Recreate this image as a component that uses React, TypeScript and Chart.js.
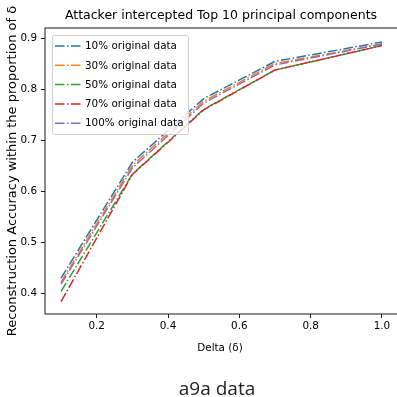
import React, { useEffect, useRef } from "react";
import { Chart, registerables } from "chart.js";

Chart.register(...registerables);

const deltas = [0.1, 0.3, 0.5, 0.7, 1.0];
const seriesNames = [
  "10% original data",
  "30% original data",
  "50% original data",
  "70% original data",
  "100% original data",
];
const acc10 = [0.43, 0.657, 0.782, 0.855, 0.893];
const acc30 = [0.422, 0.651, 0.777, 0.851, 0.889];
const acc50 = [0.404, 0.634, 0.761, 0.838, 0.886];
const acc70 = [0.384, 0.633, 0.760, 0.838, 0.886];
const acc100 = [0.418, 0.646, 0.773, 0.848, 0.889];
const colors = ["#1f77b4", "#ff7f0e", "#2ca02c", "#d62728", "#9467bd"];
const xTicks = [0.2, 0.4, 0.6, 0.8, 1.0];
const yTicks = [0.4, 0.5, 0.6, 0.7, 0.8, 0.9];
const titleText = "Attacker intercepted Top 10 principal components";
const xLabel = "Delta (δ)";
const yLabel = "Reconstruction Accuracy within the proportion of δ";
const caption = "a9a data";

const FONT = "'DejaVu Sans', sans-serif";
const DASH = [9.6, 2.4, 1.5, 2.4];

export default function App() {
  const ref = useRef<HTMLCanvasElement | null>(null);
  useEffect(() => {
    if (!ref.current) return;
    const allSeries = [acc10, acc30, acc50, acc70, acc100];
    const overlay = {
      id: "overlay",
      afterDraw(chart: any) {
        const ctx = chart.ctx;
        const a = chart.chartArea;
        ctx.save();
        // spines
        ctx.strokeStyle = "#000";
        ctx.lineWidth = 0.9;
        ctx.strokeRect(a.left, a.top, a.right - a.left, a.bottom - a.top);
        // title
        ctx.fillStyle = "#000";
        ctx.font = `12.5px ${FONT}`;
        ctx.textAlign = "center";
        ctx.textBaseline = "middle";
        const cx = (a.left + 397) / 2;
        ctx.fillText(titleText, cx, 16);
        // x label
        ctx.font = `10.4px ${FONT}`;
        ctx.fillText(xLabel, cx - 1, 348);
        // y label
        ctx.save();
        ctx.translate(13, (a.top + a.bottom) / 2);
        ctx.rotate(-Math.PI / 2);
        ctx.font = `13px ${FONT}`;
        ctx.fillText(yLabel, 0, 0);
        ctx.restore();
        // legend
        const lx = 52, ly = 35, lw = 136, lh = 99;
        ctx.fillStyle = "rgba(255,255,255,0.8)";
        ctx.strokeStyle = "#d0d0d0";
        ctx.lineWidth = 1;
        ctx.beginPath();
        if ((ctx as any).roundRect) (ctx as any).roundRect(lx + 0.5, ly + 0.5, lw, lh, 2);
        else ctx.rect(lx + 0.5, ly + 0.5, lw, lh);
        ctx.fill();
        ctx.stroke();
        ctx.textAlign = "left";
        ctx.textBaseline = "middle";
        ctx.font = `10.4px ${FONT}`;
        for (let i = 0; i < seriesNames.length; i++) {
          const y = 46 + i * 19.3;
          ctx.strokeStyle = colors[i];
          ctx.lineWidth = 1.5;
          ctx.setLineDash(DASH);
          ctx.beginPath();
          ctx.moveTo(55, y);
          ctx.lineTo(83, y);
          ctx.stroke();
          ctx.setLineDash([]);
          ctx.fillStyle = "#000";
          ctx.fillText(seriesNames[i], 85, y + 0.5);
        }
        // caption
        ctx.fillStyle = "#222";
        ctx.font = "19px 'Open Sans', Lato, sans-serif";
        ctx.textAlign = "center";
        ctx.textBaseline = "alphabetic";
        ctx.fillText(caption, 217, 395);
        ctx.restore();
      },
    };
    const chart = new Chart(ref.current, {
      type: "line",
      data: {
        datasets: allSeries.map((s, i) => ({
          label: seriesNames[i],
          data: s.map((v, j) => ({ x: deltas[j], y: v })),
          borderColor: colors[i],
          backgroundColor: colors[i],
          borderWidth: 1.5,
          borderDash: DASH,
          pointRadius: 0,
          fill: false,
          tension: 0,
          order: 4 - i,
        })),
      },
      options: {
        responsive: false,
        animation: false,
        devicePixelRatio: 1,
        layout: { padding: { left: 0, right: 12, top: 28, bottom: 0 } },
        plugins: {
          legend: { display: false },
          tooltip: { enabled: false },
          title: { display: false },
        },
        scales: {
          x: {
            type: "linear",
            min: 0.055,
            max: 1.045,
            afterFit: (s: any) => {
              s.height = 83;
            },
            afterBuildTicks: (s: any) => {
              s.ticks = xTicks.map((v) => ({ value: v }));
            },
            ticks: {
              autoSkip: false,
              maxRotation: 0,
              padding: 2,
              color: "#000",
              font: { family: FONT, size: 10.4 },
              callback: (v: any) => Number(v).toFixed(1),
            },
            grid: {
              drawOnChartArea: false,
              drawTicks: true,
              tickLength: 4,
              tickColor: "#000",
              tickWidth: 0.9,
            },
            border: { display: false },
          },
          y: {
            type: "linear",
            min: 0.3595,
            max: 0.9205,
            afterFit: (s: any) => {
              s.width = 45;
            },
            afterBuildTicks: (s: any) => {
              s.ticks = yTicks.map((v) => ({ value: v }));
            },
            ticks: {
              autoSkip: false,
              padding: 4,
              color: "#000",
              font: { family: FONT, size: 10.4 },
              callback: (v: any) => Number(v).toFixed(1),
            },
            grid: {
              drawOnChartArea: false,
              drawTicks: true,
              tickLength: 4,
              tickColor: "#000",
              tickWidth: 0.9,
            },
            border: { display: false },
          },
        },
      },
      plugins: [overlay],
    } as any);
    return () => chart.destroy();
  }, []);
  return (
    <div
      style={{
        position: "fixed",
        left: 0,
        top: 0,
        width: 397,
        height: 397,
        overflow: "hidden",
        background: "#fff",
      }}
    >
      <canvas ref={ref} width={410} height={397} style={{ display: "block" }} />
    </div>
  );
}
